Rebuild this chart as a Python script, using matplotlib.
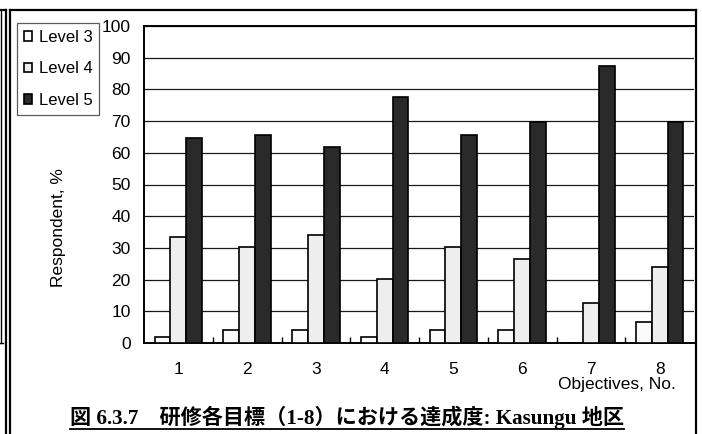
import numpy as np
import matplotlib
matplotlib.use("Agg")
import matplotlib.pyplot as plt
from matplotlib.lines import Line2D

plt.rcParams['font.family'] = ['Liberation Sans', 'DejaVu Sans']

objectives = [1, 2, 3, 4, 5, 6, 7, 8]
level3 = [2.0, 4.1, 4.1, 2.0, 4.1, 4.1, 0.0, 6.6]
level4 = [33.5, 30.4, 34.1, 20.3, 30.4, 26.4, 12.7, 23.9]
level5 = [64.6, 65.6, 61.9, 77.7, 65.6, 69.6, 87.4, 69.6]
series_names = ['Level 3', 'Level 4', 'Level 5']
colors = ['#fbfbfb', '#eeeeee', '#2a2a2a']

W, H = 702, 434
fig = plt.figure(figsize=(W / 100, H / 100), dpi=100)
ax = fig.add_axes([144 / W, 1 - 343 / H, (694 - 144) / W, (343 - 26) / H])

x = np.arange(len(objectives)) + 1
w = 0.23
for i, (vals, name) in enumerate(zip([level3, level4, level5], series_names)):
    ax.bar(x + (i - 1) * w, vals, width=w, color=colors[i], edgecolor='black',
           linewidth=1.2, label=name, zorder=3)

ax.set_xlim(0.5, 8.5)
ax.set_ylim(0, 100)
ax.set_yticks(range(0, 101, 10))
ax.set_xticks(x)
ax.set_xticklabels([str(o) for o in objectives])
ax.set_xticks(np.arange(1.5, 8.5, 1), minor=True)
ax.tick_params(axis='x', which='major', length=0, pad=13.5, labelsize=12.5)
ax.tick_params(axis='x', which='minor', direction='in', length=4, width=1)
ax.tick_params(axis='y', length=0, pad=9.5, labelsize=12.5)
ax.yaxis.grid(True, color='#1a1a1a', linewidth=0.9)
ax.set_axisbelow(True)
for s in ['left', 'bottom', 'top']:
    ax.spines[s].set_linewidth(1.4)
    ax.spines[s].set_color('black')
ax.spines['right'].set_visible(False)

fig.text(59 / W, 1 - 228 / H, 'Respondent, %', rotation=90, ha='center',
         va='center', fontsize=12.5)
fig.text(676 / W, 1 - 385 / H, 'Objectives, No.', ha='right', va='center',
         fontsize=12.5)

leg = fig.legend(loc='upper left', bbox_to_anchor=(17 / W, 1 - 23 / H),
                 frameon=True, fancybox=False, fontsize=12, handlelength=0.5,
                 handleheight=0.5, handletextpad=0.4, labelspacing=1.0,
                 borderpad=0.4, borderaxespad=0)
leg.get_frame().set_edgecolor('#333333')
leg.get_frame().set_linewidth(0.9)

title = fig.text(70 / W, 1 - 417 / H,
                 '図 6.3.7\u3000研修各目標（1-8）における達成度: Kasungu 地区',
                 ha='left', va='center', fontsize=15.2, fontweight='bold',
                 family=['Liberation Serif', 'Noto Sans CJK JP'])
fig.canvas.draw()
bb = title.get_window_extent()
fig.add_artist(Line2D([bb.x0 / W, bb.x1 / W], [1 - 429 / H, 1 - 429 / H],
                      color='black', linewidth=1.3, transform=fig.transFigure))

# page frame lines
def vline(px, y0, y1, lw=1.6, c='black'):
    fig.add_artist(Line2D([px / W, px / W], [1 - y0 / H, 1 - y1 / H], color=c,
                          linewidth=lw, transform=fig.transFigure))

def hline(py, x0, x1, lw=1.6, c='black'):
    fig.add_artist(Line2D([x0 / W, x1 / W], [1 - py / H, 1 - py / H], color=c,
                          linewidth=lw, transform=fig.transFigure))

vline(5.5, 9.5, 434)
vline(10, 9.5, 434)
hline(9.5, 0, 5.5)
hline(9.5, 10, 696)
vline(695.5, 9.5, 434)
vline(1, 9.5, 343, lw=1.0)
hline(343, 0, 2.5, lw=1.0)

fig.savefig('out.png', dpi=100)
